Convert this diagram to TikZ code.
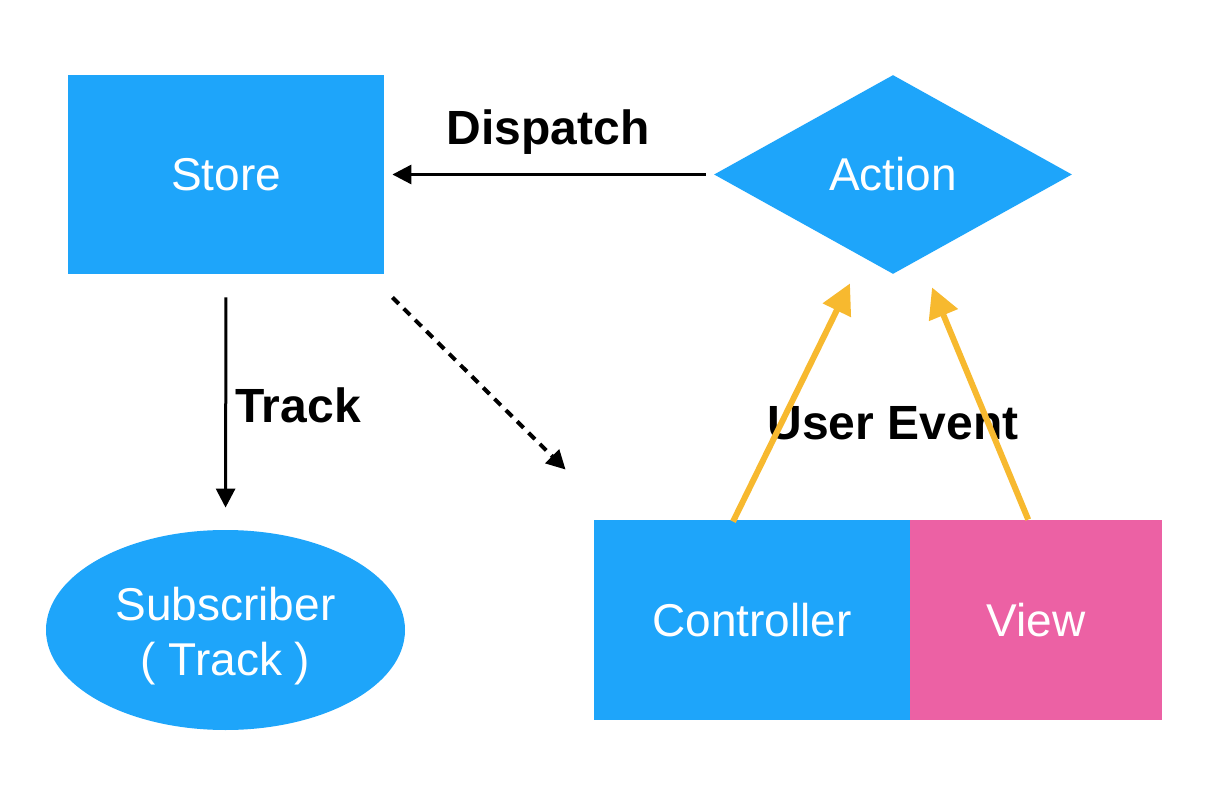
\documentclass[tikz,border=0pt]{standalone}
\usepackage{fontspec}
\setmainfont{Liberation Sans}
\usepackage{tikz}
\usetikzlibrary{shapes,arrows}
\usetikzlibrary{positioning}
\usetikzlibrary{arrows.meta}

\definecolor{fluxblue}{RGB}{30,165,250}
\definecolor{fluxpink}{RGB}{236,97,164}
\definecolor{fluxorange}{RGB}{247,185,47}

\tikzset{
	bluebox/.style={rectangle, fill=fluxblue, text=white, inner sep=0pt, font=\fontsize{23}{27.5}\selectfont},
	flowlabel/.style={font=\fontsize{24}{28}\selectfont\bfseries},
	flow/.style={line width=1.5pt, -{Triangle[length=9.5pt,width=9.5pt]}},
	userflow/.style={line width=3pt, draw=fluxorange, -{Triangle[length=15pt,width=15pt]}}
}

\begin{document}
\begin{tikzpicture}[x=0.5pt,y=-0.5pt]
	\useasboundingbox (0,0) rectangle (1230,790);
	% nodes
	\node [bluebox, minimum width=158pt, minimum height=99.5pt] (store) at (226,174.5) {Store};
	\node [bluebox, diamond, minimum width=179pt, minimum height=99.5pt] (action) at (893,174.5) {Action};
	\node [bluebox, ellipse, minimum width=179.5pt, minimum height=100pt] (sub) at (225.5,630) {};
	\node [text=white, font=\fontsize{23}{27.5}\selectfont, align=center, yshift=-3pt] (subtext) at (sub) {Subscriber\\( Track )};
	\node [bluebox, minimum width=158pt, minimum height=100pt] (ctrl) at (752,620) {Controller};
	\node [bluebox, fill=fluxpink, minimum width=126pt, minimum height=100pt, right=-0.3pt of ctrl] (view) {View};
	% labels
	\node [flowlabel] (dispatch) at (548,132) {Dispatch};
	\node [flowlabel] (track) at (298,405) {Track};
	\node [flowlabel] (event) at (893,423) {User Event};
	% arrows
	\draw [flow, shorten <=4pt, shorten >=4pt] (action.west) -- (store.east);
	\draw [flow, shorten <=11.5pt, shorten >=11pt] (store.south) -- (sub.north);
	\draw [flow, line width=2pt, dash pattern=on 4.5pt off 3.5pt] ([xshift=4pt,yshift=-11.5pt]store.south east) -- ([xshift=-14pt,yshift=25pt]ctrl.north west);
	\draw [userflow] ([xshift=-9.5pt,yshift=-1pt]ctrl.north) -- ([xshift=-21.5pt,yshift=-4.5pt]action.south);
	\draw [userflow] ([xshift=-4pt]view.north) -- ([xshift=19.5pt,yshift=-6.5pt]action.south);
\end{tikzpicture}
\end{document}
